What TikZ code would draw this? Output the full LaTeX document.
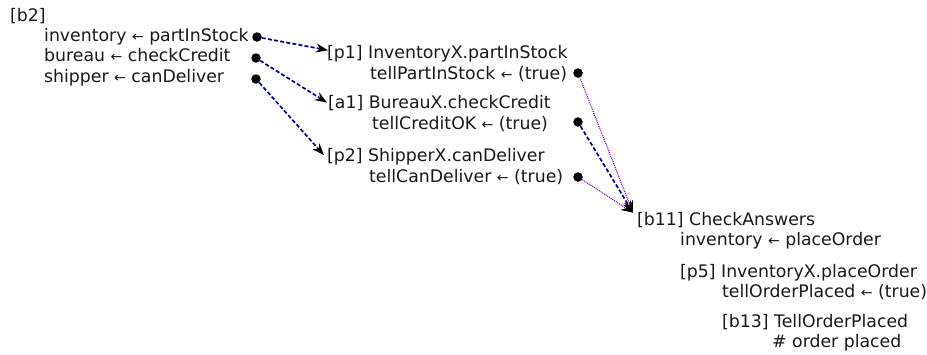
\documentclass[tikz,border=0pt]{standalone}
\usepackage{fontspec}
\setmainfont{DejaVu Sans}
\usetikzlibrary{arrows.meta}
\definecolor{navyline}{RGB}{0,0,140}
\definecolor{purpline}{RGB}{128,0,200}
\tikzset{
  txt/.style={anchor=base west, inner sep=0pt, font=\fontsize{17.3}{20}\selectfont, text=black!90},
  dot/.style={circle, fill=black, inner sep=0pt, minimum size=9.5pt},
  dasharrow/.style={draw=navyline, line width=1.7pt, dash pattern=on 4pt off 2.2pt, -{Stealth[length=12pt,width=9pt,black]}},
  dotarrow/.style={draw=purpline, line width=1.1pt, dash pattern=on 1pt off 1pt, -{Stealth[length=12pt,width=9pt,black]}},
}
\newcommand{\la}{{\fontsize{14}{14}\selectfont ←}}
\begin{document}
\begin{tikzpicture}[x=1pt,y=-1pt]
\useasboundingbox (0,0) rectangle (927,354);
% block b2
\node[txt] (b2) at (10,21) {[b2]};
\node[txt] (b2a) at (44,41) {inventory \la{} partInStock};
\node[txt] (b2b) at (44,61) {bureau \la{} checkCredit};
\node[txt] (b2c) at (44,82) {shipper \la{} canDeliver};
\node[dot] (d1) at (257,37) {};
\node[dot] (d2) at (256,58) {};
\node[dot] (d3) at (256,79) {};
% p1
\node[txt] (p1) at (327,58) {[p1] InventoryX.partInStock};
\node[txt] (p1b) at (370,79) {tellPartInStock \la{} (true)};
\node[dot] (e1) at (578,73) {};
% a1
\node[txt] (a1) at (328,108) {[a1] BureauX.checkCredit};
\node[txt] (a1b) at (372,129) {tellCreditOK \la{} (true)};
\node[dot] (e2) at (578,122) {};
% p2
\node[txt] (p2) at (327,161) {[p2] ShipperX.canDeliver};
\node[txt] (p2b) at (369,182) {tellCanDeliver \la{} (true)};
\node[dot] (e3) at (578,177) {};
% b11
\node[txt] (b11) at (637,225) {[b11] CheckAnswers};
\node[txt] (b11b) at (680,245) {inventory \la{} placeOrder};
\node[txt] (p5) at (680,277) {[p5] InventoryX.placeOrder};
\node[txt] (p5b) at (722,297) {tellOrderPlaced \la{} (true)};
\node[txt] (b13) at (722,327) {[b13] TellOrderPlaced};
\node[txt] (b13b) at (772,347) {\# order placed};
% arrows
\coordinate (t1) at ([xshift=1pt,yshift=3pt]p1.west);
\coordinate (t2) at ([xshift=-1pt,yshift=0pt]a1.west);
\coordinate (t3) at ([xshift=-3pt,yshift=1pt]p2.west);
\coordinate (t4) at ([xshift=-4pt,yshift=-1pt]b11.north west);
\draw[dasharrow] (d1) -- (t1);
\draw[dasharrow] (d2) -- (t2);
\draw[dasharrow] (d3) -- (t3);
\draw[dotarrow] (e1) -- (t4);
\draw[dotarrow] (e3) -- (t4);
\draw[dasharrow] (e2) -- (t4);
\end{tikzpicture}
\end{document}
